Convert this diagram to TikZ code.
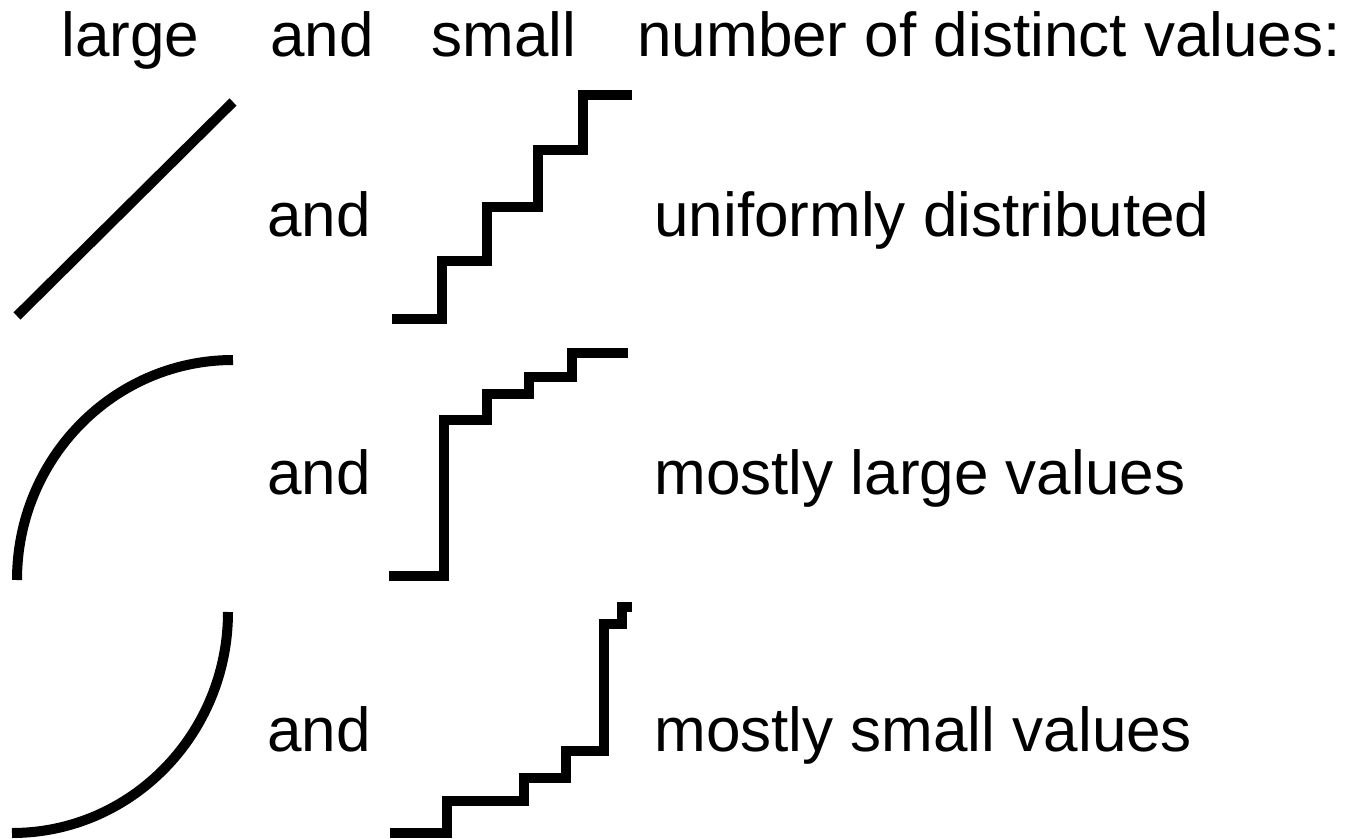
\documentclass[tikz,border=0pt]{standalone}
\usepackage{fontspec}
\setmainfont{Liberation Sans}
\usetikzlibrary{positioning}
\tikzset{
  head text/.style={anchor=base west,inner sep=0pt,text=black,font=\fontsize{35.3}{40}\selectfont},
  row text/.style={anchor=base west,inner sep=0pt,text=black,font=\fontsize{35.3}{40}\selectfont},
  curve line/.style={draw=black,line width=0.2cm,line cap=butt,line join=miter}
}

\begin{document}
\begin{tikzpicture}[x=1cm,y=1cm]
  \useasboundingbox (0,0) rectangle (27.28,16.76);

  % header
  \node[head text] (hLarge) at (1.22,15.62) {large};
  \node[head text] (hAnd) at (5.40,15.62) {and};
  \node[head text] (hSmall) at (8.62,15.62) {small};
  \node[head text] (hNumber) at (12.74,15.62) {number of distinct values:};

  % row 1
  \draw[curve line] (0.34,10.44) -- (4.66,14.72);
  \node[row text] (andA) at (5.34,12.02) {and};
  \draw[curve line] (7.84,10.38) -- (8.84,10.38) -- (8.84,11.54) -- (9.74,11.54) -- (9.74,12.62)
    -- (10.76,12.62) -- (10.76,13.76) -- (11.66,13.76) -- (11.66,14.86) -- (12.64,14.86);
  \node[row text] (uniform) at (13.08,12.02) {uniformly distributed};

  % row 2
  \draw[curve line] (0.34,5.16) arc[start angle=180,end angle=90,x radius=4.32,y radius=4.40];
  \node[row text] (andB) at (5.34,6.88) {and};
  \draw[curve line] (7.78,5.24) -- (8.88,5.24) -- (8.88,8.36) -- (9.74,8.36) -- (9.74,8.88)
    -- (10.58,8.88) -- (10.58,9.22) -- (11.44,9.22) -- (11.44,9.70) -- (12.56,9.70);
  \node[row text] (mostLarge) at (13.08,6.88) {mostly large values};

  % row 3
  \draw[curve line] (4.56,4.52) arc[start angle=0,end angle=-90,x radius=4.32,y radius=4.42];
  \node[row text] (andC) at (5.34,1.74) {and};
  \draw[curve line] (7.80,0.10) -- (8.94,0.10) -- (8.94,0.74) -- (10.48,0.74) -- (10.48,1.20)
    -- (11.32,1.20) -- (11.32,1.74) -- (12.08,1.74) -- (12.08,4.28) -- (12.44,4.28)
    -- (12.44,4.62) -- (12.64,4.62);
  \node[row text] (mostSmall) at (13.08,1.74) {mostly small values};
\end{tikzpicture}
\end{document}
